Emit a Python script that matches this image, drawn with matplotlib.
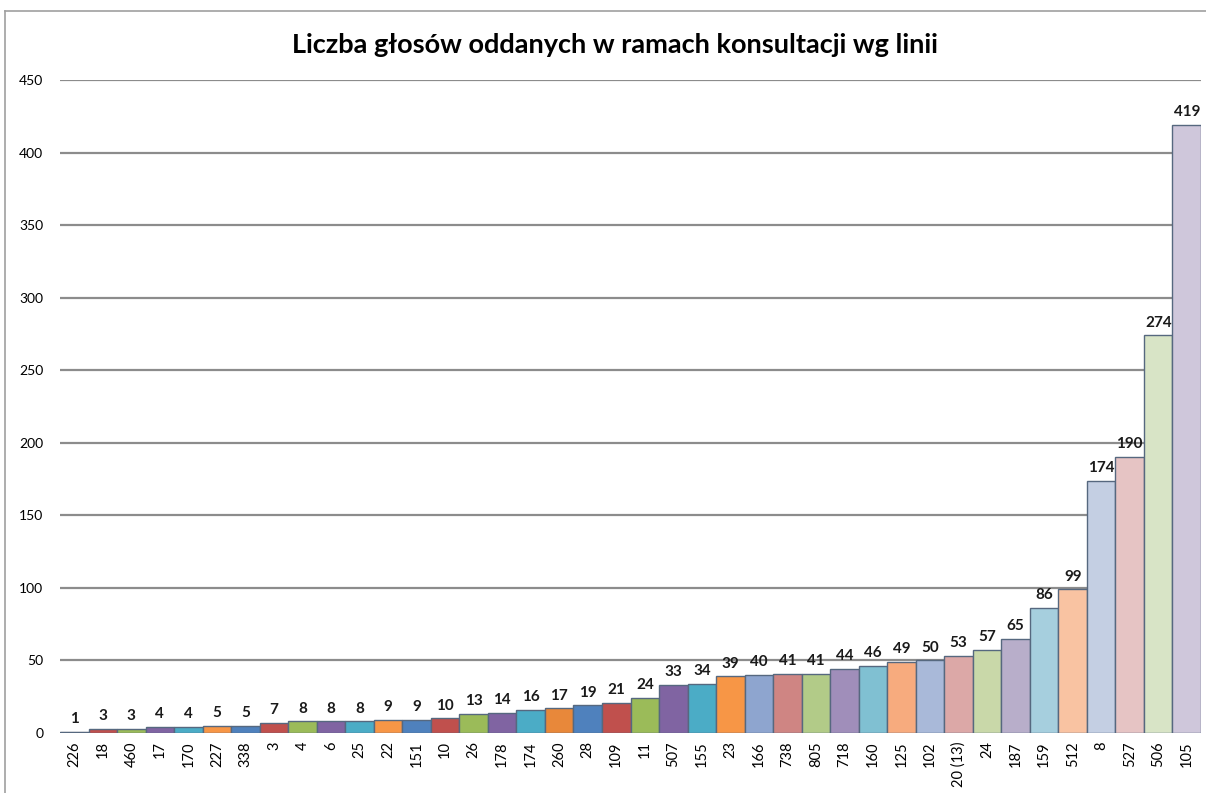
import matplotlib
matplotlib.use("Agg")
import matplotlib.pyplot as plt
from matplotlib.lines import Line2D

categories = ["226", "18", "460", "17", "170", "227", "338", "3", "4", "6", "25", "22", "151", "10",
              "26", "178", "174", "260", "28", "109", "11", "507", "155", "23", "166", "738", "805",
              "718", "160", "125", "102", "20 (13)", "24", "187", "159", "512", "8", "527", "506", "105"]
values = [1, 3, 3, 4, 4, 5, 5, 7, 8, 8, 8, 9, 9, 10, 13, 14, 16, 17, 19, 21, 24, 33, 34, 39, 40, 41,
          41, 44, 46, 49, 50, 53, 57, 65, 86, 99, 174, 190, 274, 419]
colors = ["#4F81BD", "#C0504D", "#9BBB59", "#8064A2", "#4BACC6", "#F79646",
          "#4F81BD", "#C0504D", "#9BBB59", "#8064A2", "#4BACC6", "#F79646",
          "#4F81BD", "#C0504D", "#9BBB59", "#8064A2", "#4BACC6", "#E8883A",
          "#4F81BD", "#C0504D", "#9BBB59", "#8064A2", "#4BACC6", "#F79646",
          "#8EA5CF", "#CF8583", "#B2CB88", "#A08EBA", "#80C0D2", "#F7AB7E",
          "#A9B9D9", "#DCA8A7", "#C9D8A9", "#B8AECA", "#A6CFDE", "#F9C3A2",
          "#C4CFE3", "#E6C4C4", "#D8E4C6", "#CFC7DB"]
title = "Liczba głosów oddanych w ramach konsultacji wg linii"
yticks = [0, 50, 100, 150, 200, 250, 300, 350, 400, 450]

plt.rcParams['font.family'] = ['Lato', 'DejaVu Sans']

fig = plt.figure(figsize=(12.06, 7.93), dpi=100)
ax = fig.add_axes([60 / 1206, 1 - 733 / 793, 1141 / 1206, 653 / 793])

x = list(range(len(values)))
bars = ax.bar(x, values, width=1.0, color=colors, edgecolor="#56687F", linewidth=1.0, zorder=3)
ax.set_xlim(-0.5, len(values) - 0.5)
ax.set_ylim(0, 450)
ax.set_yticks(yticks)
ax.set_yticklabels([str(t) for t in yticks], fontsize=10)
ax.set_xticks(x)
ax.set_xticklabels(categories, rotation=90, fontsize=10.5)
ax.tick_params(axis='y', length=0, pad=12)
ax.tick_params(axis='x', length=0, pad=6)
ax.yaxis.grid(True, color="#8C8C8C", linewidth=1.6, zorder=0)
ax.set_axisbelow(True)
for s in ax.spines.values():
    s.set_visible(False)

for rect, v in zip(bars, values):
    ax.text(rect.get_x() + rect.get_width() / 2, v + 4, str(v), ha='center', va='bottom',
            fontsize=11, fontweight='bold', color="#1a1a1a", zorder=4)

fig.text(0.51, 0.943, title, ha='center', va='center', fontsize=19.5, fontweight='bold')

# outer chart frame (top and left edges)
fig.add_artist(Line2D([5 / 1206, 1.0], [1 - 11 / 793, 1 - 11 / 793], transform=fig.transFigure,
                      color="#A0A0A0", linewidth=1.2))
fig.add_artist(Line2D([5 / 1206, 5 / 1206], [0, 1 - 11 / 793], transform=fig.transFigure,
                      color="#A0A0A0", linewidth=1.2))

fig.savefig("out.png", dpi=100)
